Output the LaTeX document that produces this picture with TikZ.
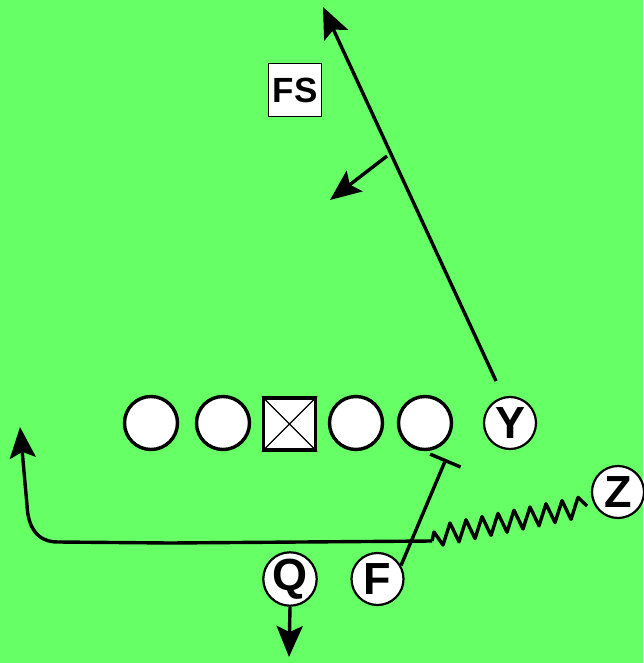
\documentclass[tikz,border=0pt]{standalone}
\usepackage{fontspec}
\setmainfont{Liberation Sans}
\usetikzlibrary{arrows.meta}
\definecolor{field}{RGB}{102,255,102}
\begin{document}
\begin{tikzpicture}[x=1pt,y=-1pt,
  lineman/.style={circle,draw=black,fill=white,line width=3.4pt,minimum size=53pt,inner sep=0pt},
  centerbox/.style={rectangle,draw=black,fill=white,line width=3.2pt,minimum size=52pt,inner sep=0pt},
  player/.style={circle,draw=black,fill=white,line width=2.2pt,minimum size=52pt,inner sep=0pt,font=\fontsize{45}{45}\selectfont\bfseries},
  defbox/.style={rectangle,draw=black,fill=white,line width=1.6pt,minimum size=53pt,inner sep=0pt,font=\fontsize{35}{35}\selectfont\bfseries},
  route/.style={line width=3.4pt,line join=round},
  tipped/.style={-{Stealth[length=31pt,width=26pt,inset=6pt]}},
  blocked/.style={-{Bar[width=33pt]}}
]
\fill[field] (0,0) rectangle (643,663);
\useasboundingbox (0,0) rectangle (643,663);

% offensive line
\node[lineman] (L1) at (151,423) {};
\node[lineman] (L2) at (223,423) {};
\node[centerbox] (C) at (289.5,424) {};
\draw[line width=1.4pt] (C.north west) -- (C.south east) (C.north east) -- (C.south west);
\node[lineman] (L4) at (356,423) {};
\node[lineman] (L5) at (425,423) {};

% skill players
\node[player] (Y) at (510,423) {Y};
\node[player] (Z) at (618,492) {Z};
\node[player] (Q) at (290,579) {Q};
\node[player] (F) at (377.5,579) {F};

% defender
\node[defbox] (FS) at (295,90) {FS};

% Y route
\coordinate (ystart) at (496,381);
\coordinate (ytip) at (323,7);
\draw[route,tipped] (ystart) -- (ytip);

% FS arrow
\coordinate (fsa) at (387,156);
\coordinate (fsb) at (330,200);
\draw[route,tipped] (fsa) -- (fsb);

% Q drop
\coordinate (qtip) at (289,657);
\draw[route,tipped] (Q.south) -- (qtip);

% F block
\coordinate (fblock) at (446,459);
\draw[route,blocked] (F.30) -- (fblock);

% Z route: zigzag motion then long route to the left
\coordinate (zstart) at (432,541);
\coordinate (zend) at (587,506);
\draw[route] (zstart) -- (434,532)
  \foreach \k in {0,...,8}{ -- ({443+16*\k},{545-3.2*\k}) -- ({450+16*\k},{523-3.2*\k}) }
  -- (zend);
\coordinate (lcorner) at (58,542);
\coordinate (lup) at (27,505);
\coordinate (ltip) at (20,427);
\draw[route,tipped] (zstart) -- (170,543) -- (lcorner) .. controls (36,542) and (28,526) .. (lup) -- (ltip);
\end{tikzpicture}
\end{document}
